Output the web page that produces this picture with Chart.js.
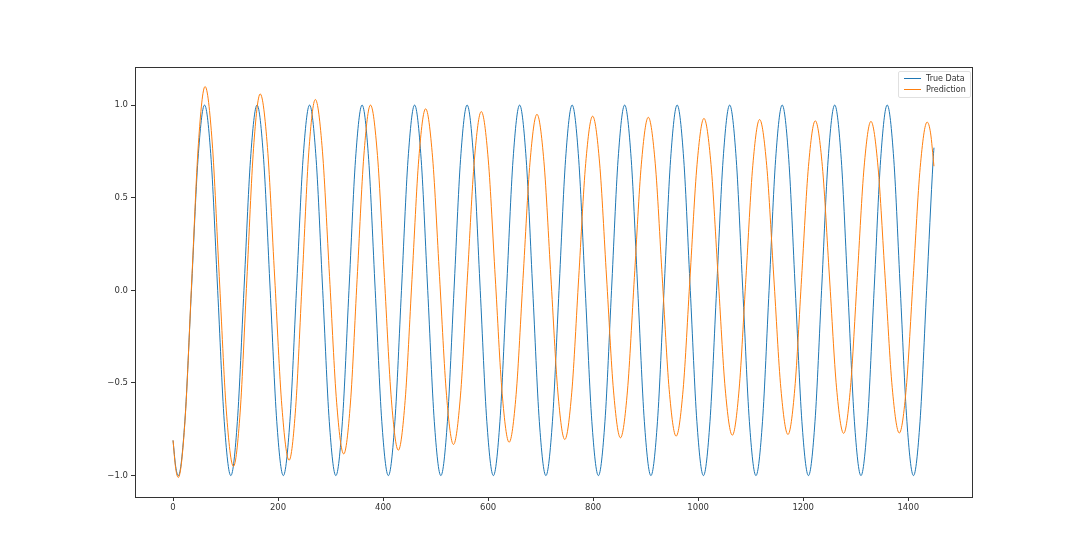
<!DOCTYPE html>
<html>
<head>
<meta charset="utf-8">
<script src="https://cdn.jsdelivr.net/npm/chart.js"></script>
<style>
    body { margin: 0; background: #fff; }
    #wrap { position: relative; width: 1080px; height: 559px; }
    #legend {
        position: absolute; left: 898px; top: 71px; width: 71px; height: 25px;
        border: 1px solid #e0e0e0; border-radius: 2px; background: rgba(255,255,255,0.8);
        font-family: "DejaVu Sans", sans-serif; font-size: 8px; color: #333;
    }
    .item { position: absolute; left: 5px; height: 11px; line-height: 11px; white-space: nowrap; }
    .swatch { display: inline-block; width: 17px; height: 1.3px; vertical-align: middle; margin-right: 5px; }
</style>
</head>
<body>
<div id="wrap">
    <canvas id="chart" width="1080" height="559"></canvas>
    <div id="legend"></div>
</div>
<script>
// True Data: one cycle per 100 steps (trough, -45deg, zero, +45deg, peak, ...)
const trueX = [
    0, 5,
    10, 22.5, 35, 47.5, 60, 72.5, 85, 97.5,
    110, 122.5, 135, 147.5, 160, 172.5, 185, 197.5,
    210, 222.5, 235, 247.5, 260, 272.5, 285, 297.5,
    310, 322.5, 335, 347.5, 360, 372.5, 385, 397.5,
    410, 422.5, 435, 447.5, 460, 472.5, 485, 497.5,
    510, 522.5, 535, 547.5, 560, 572.5, 585, 597.5,
    610, 622.5, 635, 647.5, 660, 672.5, 685, 697.5,
    710, 722.5, 735, 747.5, 760, 772.5, 785, 797.5,
    810, 822.5, 835, 847.5, 860, 872.5, 885, 897.5,
    910, 922.5, 935, 947.5, 960, 972.5, 985, 997.5,
    1010, 1022.5, 1035, 1047.5, 1060, 1072.5, 1085, 1097.5,
    1110, 1122.5, 1135, 1147.5, 1160, 1172.5, 1185, 1197.5,
    1210, 1222.5, 1235, 1247.5, 1260, 1272.5, 1285, 1297.5,
    1310, 1322.5, 1335, 1347.5, 1360, 1372.5, 1385, 1397.5,
    1410, 1422.5, 1435, 1447.5, 1449
];
const trueY = [
    -0.81, -0.95,
    -1, -0.707, 0, 0.707, 1, 0.707, 0, -0.707,
    -1, -0.707, 0, 0.707, 1, 0.707, 0, -0.707,
    -1, -0.707, 0, 0.707, 1, 0.707, 0, -0.707,
    -1, -0.707, 0, 0.707, 1, 0.707, 0, -0.707,
    -1, -0.707, 0, 0.707, 1, 0.707, 0, -0.707,
    -1, -0.707, 0, 0.707, 1, 0.707, 0, -0.707,
    -1, -0.707, 0, 0.707, 1, 0.707, 0, -0.707,
    -1, -0.707, 0, 0.707, 1, 0.707, 0, -0.707,
    -1, -0.707, 0, 0.707, 1, 0.707, 0, -0.707,
    -1, -0.707, 0, 0.707, 1, 0.707, 0, -0.707,
    -1, -0.707, 0, 0.707, 1, 0.707, 0, -0.707,
    -1, -0.707, 0, 0.707, 1, 0.707, 0, -0.707,
    -1, -0.707, 0, 0.707, 1, 0.707, 0, -0.707,
    -1, -0.707, 0, 0.707, 1, 0.707, 0, -0.707,
    -1, -0.707, 0, 0.707, 0.77
];

// Prediction, each line = half cycle ending at a peak/trough
const predX = [
    0, 5, 10,
    22.8, 35.5, 48.3, 61,
    74.5, 88, 101.5, 115,
    127.8, 140.5, 153.3, 166,
    179.8, 193.5, 207.3, 221,
    233.5, 246, 258.5, 271,
    284.5, 298, 311.5, 325,
    337.8, 350.5, 363.3, 376,
    389.3, 402.5, 415.8, 429,
    442, 455, 468, 481,
    494.3, 507.5, 520.8, 534,
    547.3, 560.5, 573.8, 587,
    600.3, 613.5, 626.8, 640,
    653.3, 666.5, 679.8, 693,
    706.3, 719.5, 732.8, 746,
    759.3, 772.5, 785.8, 799,
    812.3, 825.5, 838.8, 852,
    865.3, 878.5, 891.8, 905,
    918.3, 931.5, 944.8, 958,
    971.3, 984.5, 997.8, 1011,
    1024.5, 1038, 1051.5, 1065,
    1078, 1091, 1104, 1117,
    1130.5, 1144, 1157.5, 1171,
    1184, 1197, 1210, 1223,
    1236.5, 1250, 1263.5, 1277,
    1290, 1303, 1316, 1329,
    1342.5, 1356, 1369.5, 1383,
    1396.3, 1409.5, 1422.8, 1436,
    1442.5, 1449
];
const predY = [
    -0.81, -0.96, -1.01,
    -0.702, 0.045, 0.792, 1.10,
    0.801, 0.075, -0.651, -0.95,
    -0.657, 0.055, 0.767, 1.06,
    0.771, 0.072, -0.628, -0.917,
    -0.633, 0.057, 0.746, 1.03,
    0.751, 0.074, -0.604, -0.883,
    -0.608, 0.059, 0.725, 1.00,
    0.728, 0.069, -0.591, -0.863,
    -0.594, 0.059, 0.711, 0.98,
    0.715, 0.074, -0.567, -0.832,
    -0.570, 0.067, 0.703, 0.965,
    0.704, 0.073, -0.559, -0.82,
    -0.562, 0.065, 0.692, 0.95,
    0.694, 0.073, -0.549, -0.805,
    -0.550, 0.068, 0.685, 0.94,
    0.687, 0.072, -0.543, -0.796,
    -0.543, 0.069, 0.681, 0.934,
    0.683, 0.074, -0.536, -0.787,
    -0.537, 0.071, 0.678, 0.928,
    0.678, 0.073, -0.532, -0.782,
    -0.533, 0.070, 0.673, 0.922,
    0.674, 0.072, -0.530, -0.778,
    -0.531, 0.069, 0.668, 0.915,
    0.669, 0.072, -0.526, -0.772,
    -0.526, 0.070, 0.666, 0.912,
    0.666, 0.071, -0.524, -0.77,
    -0.525, 0.069, 0.663, 0.908,
    0.85, 0.67
];

const xTicks = [0, 200, 400, 600, 800, 1000, 1200, 1400];
const yTicks = [-1.0, -0.5, 0.0, 0.5, 1.0];
const seriesNames = ['True Data', 'Prediction'];
const seriesColors = ['#1f77b4', '#ff7f0e'];

const axisColor = '#333';
const tickFont = { family: 'DejaVu Sans', size: 8.5 };

function toPoints(xs, ys) {
    return xs.map((x, i) => ({ x: x, y: ys[i] }));
}

// full box around the plot area, like matplotlib spines
const frameBox = {
    id: 'frameBox',
    afterDraw(chart) {
        const a = chart.chartArea;
        const ctx = chart.ctx;
        ctx.save();
        ctx.strokeStyle = axisColor;
        ctx.lineWidth = 1;
        ctx.strokeRect(Math.round(a.left) + 0.5, Math.round(a.top) + 0.5,
            Math.round(a.right - a.left), Math.round(a.bottom - a.top));
        ctx.restore();
    }
};

const ctx = document.getElementById('chart').getContext('2d');
new Chart(ctx, {
    type: 'line',
    data: {
        datasets: [
            {
                label: seriesNames[0],
                data: toPoints(trueX, trueY),
                borderColor: seriesColors[0],
                borderWidth: 1,
                pointRadius: 0,
                cubicInterpolationMode: 'monotone',
                fill: false,
                order: 1
            },
            {
                label: seriesNames[1],
                data: toPoints(predX, predY),
                borderColor: seriesColors[1],
                borderWidth: 1,
                pointRadius: 0,
                cubicInterpolationMode: 'monotone',
                fill: false,
                order: 0
            }
        ]
    },
    options: {
        responsive: false,
        animation: false,
        layout: { padding: { top: 67, right: 108, left: 0, bottom: 0 } },
        plugins: {
            legend: { display: false },
            tooltip: { enabled: false }
        },
        scales: {
            x: {
                type: 'linear',
                min: -72.45,
                max: 1521.45,
                afterBuildTicks: s => { s.ticks = xTicks.map(v => ({ value: v })); },
                afterFit: s => { s.height = 62; },
                grid: { drawOnChartArea: false, drawTicks: true, tickLength: 4, color: axisColor },
                border: { display: true, color: axisColor, width: 1 },
                ticks: { font: tickFont, color: axisColor, padding: 2, maxRotation: 0,
                    callback: v => String(v) }
            },
            y: {
                min: -1.1155,
                max: 1.2055,
                afterBuildTicks: s => { s.ticks = yTicks.map(v => ({ value: v })); },
                afterFit: s => { s.width = 135; },
                grid: { drawOnChartArea: false, drawTicks: true, tickLength: 4, color: axisColor },
                border: { display: true, color: axisColor, width: 1 },
                ticks: { font: tickFont, color: axisColor, padding: 3,
                    callback: v => (v < 0 ? '\u2212' : '') + Math.abs(v).toFixed(1) }
            }
        }
    },
    plugins: [frameBox]
});

// matplotlib style legend in the upper right
const legend = document.getElementById('legend');
legend.innerHTML = seriesNames.map((name, i) =>
    `<div class="item" style="top:${1 + i * 11}px">` +
    `<span class="swatch" style="background:${seriesColors[i]}"></span>${name}</div>`
).join('');
</script>
</body>
</html>
